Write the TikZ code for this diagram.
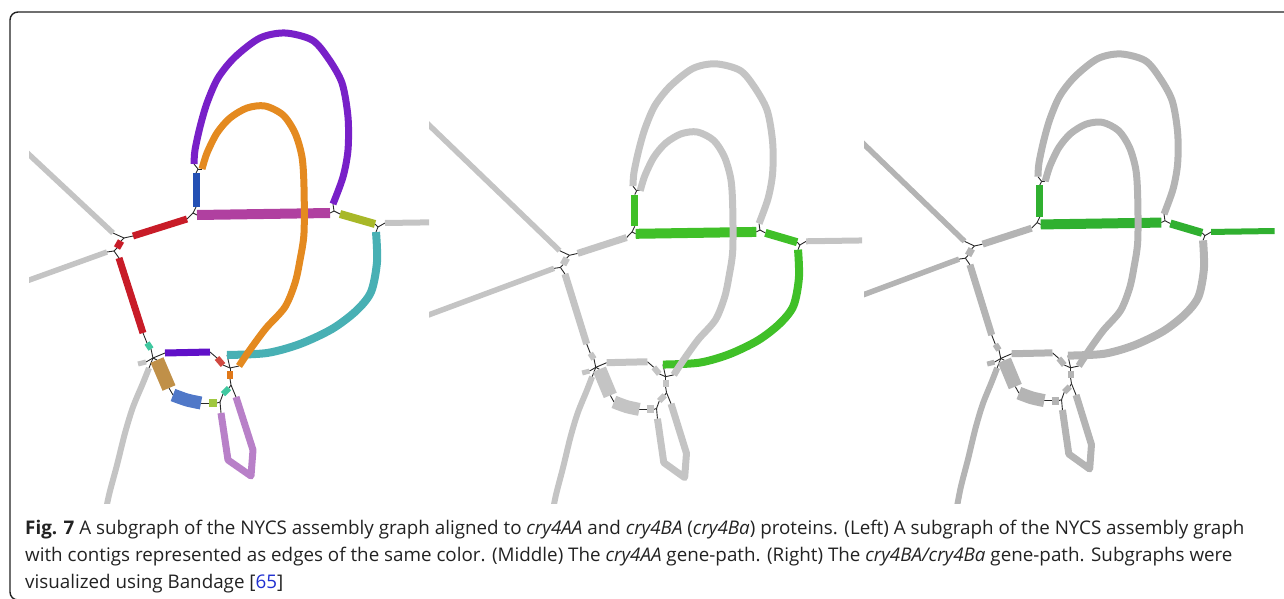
\documentclass[tikz,border=0pt]{standalone}
\usepackage{fontspec}
\setmainfont{Open Sans}
\usetikzlibrary{positioning}
% contig colours (left panel)
\definecolor{cGrey}{RGB}{196,196,196}
\definecolor{cGreyR}{RGB}{196,196,196}
\definecolor{cLoopOut}{RGB}{120,32,200}
\definecolor{cLoopIn}{RGB}{228,138,32}
\definecolor{cBlueV}{RGB}{36,80,180}
\definecolor{cMag}{RGB}{176,64,160}
\definecolor{cRedA}{RGB}{200,28,40}
\definecolor{cRedB}{RGB}{200,28,40}
\definecolor{cRedC}{RGB}{200,28,40}
\definecolor{cYG}{RGB}{168,184,40}
\definecolor{cTeal}{RGB}{72,176,180}
\definecolor{cMintA}{RGB}{64,200,160}
\definecolor{cMintB}{RGB}{64,200,160}
\definecolor{cIndigo}{RGB}{96,16,200}
\definecolor{cRedD}{RGB}{208,72,64}
\definecolor{cOrangeS}{RGB}{224,120,24}
\definecolor{cTan}{RGB}{192,144,72}
\definecolor{cBlueT}{RGB}{80,120,200}
\definecolor{cSquare}{RGB}{160,200,64}
\definecolor{cLilac}{RGB}{184,128,200}
% panel colours
\definecolor{midGrey}{RGB}{196,196,196}
\definecolor{rightGrey}{RGB}{180,180,180}
\definecolor{pathGreen}{RGB}{64,192,40}
\definecolor{pathGreenR}{RGB}{48,176,48}
\definecolor{linkGrey}{RGB}{40,40,40}
\definecolor{frameGrey}{RGB}{34,34,34}
\definecolor{captionText}{RGB}{34,34,34}
\definecolor{refBlue}{RGB}{32,48,208}

\newcommand{\greyall}[1]{%
  \colorlet{cGrey}{#1}\colorlet{cGreyR}{#1}\colorlet{cLoopOut}{#1}%
  \colorlet{cLoopIn}{#1}\colorlet{cBlueV}{#1}\colorlet{cMag}{#1}%
  \colorlet{cRedA}{#1}\colorlet{cRedB}{#1}\colorlet{cRedC}{#1}%
  \colorlet{cYG}{#1}\colorlet{cTeal}{#1}\colorlet{cMintA}{#1}%
  \colorlet{cMintB}{#1}\colorlet{cIndigo}{#1}\colorlet{cRedD}{#1}%
  \colorlet{cOrangeS}{#1}\colorlet{cTan}{#1}\colorlet{cBlueT}{#1}%
  \colorlet{cSquare}{#1}\colorlet{cLilac}{#1}}

\newcommand{\drawsubgraph}{%
  % contig ends
  \coordinate (gul0) at (-40,90);  \coordinate (gul1) at (113,233);
  \coordinate (gll0) at (-40,305); \coordinate (gll1) at (107,252);
  \coordinate (ra0) at (133,236);  \coordinate (ra1) at (187,219);
  \coordinate (rb0) at (121,241);  \coordinate (rb1) at (117,248);
  \coordinate (rc0) at (119,258);  \coordinate (rc1) at (143,333);
  \coordinate (bv0) at (196,207);  \coordinate (bv1) at (196,173);
  \coordinate (mg0) at (197,215);  \coordinate (mg1) at (330,213);
  \coordinate (lo0) at (194,164);  \coordinate (lo1) at (333,204);
  \coordinate (li0) at (202,169);  \coordinate (li1) at (239,366);
  \coordinate (yg0) at (340,214);  \coordinate (yg1) at (375,224);
  \coordinate (gr0) at (385,223);  \coordinate (gr1) at (455,222);
  \coordinate (tl0) at (376,232);  \coordinate (tl1) at (227,355);
  \coordinate (m10) at (147,343);  \coordinate (m11) at (151,349);
  \coordinate (in0) at (165,353);  \coordinate (in1) at (210,352);
  \coordinate (rd0) at (217,358);  \coordinate (rd1) at (223,365);
  \coordinate (os0) at (230,371);  \coordinate (os1) at (230,379);
  \coordinate (m20) at (229,388);  \coordinate (m21) at (223,394);
  \coordinate (tn0) at (157,360);  \coordinate (tn1) at (169,388);
  \coordinate (bt0) at (173,395);  \coordinate (bt1) at (201,403);
  \coordinate (sq0) at (209,403);  \coordinate (sq1) at (217,403);
  \coordinate (lc0) at (221,413);  \coordinate (lc1) at (236,397);
  \coordinate (gs0) at (138,364);  \coordinate (gs1) at (146,362);
  \coordinate (gw0) at (149,368);  \coordinate (gw1) at (104,520);
  % junctions
  \coordinate (j1) at (124,238);  \coordinate (j2) at (114,251);
  \coordinate (j3) at (193,213);  \coordinate (j9) at (198,169);
  \coordinate (j8) at (334,211);  \coordinate (j10) at (378,227);
  \coordinate (j4) at (153,358);  \coordinate (j5) at (230,368);
  \coordinate (j6) at (231,385);  \coordinate (j7) at (220,402);
  % links
  \foreach \a/\b in {gul1/j1, j1/ra0, j1/rb0, rb1/j2, gll1/j2, j2/rc0,
      ra1/j3, j3/bv0, j3/mg0, bv1/j9, j9/lo0, j9/li0, mg1/j8, lo1/j8,
      j8/yg0, yg1/j10, j10/gr0, j10/tl0, rc1/m10, m11/j4, j4/in0, j4/gs1,
      j4/tn0, j4/gw0, in1/rd0, rd1/j5, tl1/j5, li1/j5, j5/os0, os1/j6,
      j6/m20, j6/lc1, m21/j7, sq1/j7, j7/lc0, tn1/bt0, bt1/sq0}
    \draw[lnk] (\a) -- (\b);
  % contigs
  \draw[ctg, draw=cGrey, line width=5.5pt] (gul0) -- (gul1);
  \draw[ctg, draw=cGrey, line width=5.5pt] (gll0) -- (gll1);
  \draw[ctg, draw=cGrey, line width=5pt] (gs0) -- (gs1);
  \draw[ctg, draw=cGrey, line width=6pt] plot[smooth] coordinates {(gw0) (143,383) (133,407) (125,433) (117,465) (109,495) (gw1)};
  \draw[ctg, draw=cRedA, line width=7pt] (ra0) -- (ra1);
  \draw[ctg, draw=cRedB, line width=7pt] (rb0) -- (rb1);
  \draw[ctg, draw=cRedC, line width=7pt] (rc0) -- (rc1);
  \draw[ctg, draw=cBlueV, line width=7pt] (bv0) -- (bv1);
  \draw[ctg, draw=cMag, line width=10pt] (mg0) -- (mg1);
  \draw[ctg, draw=cYG, line width=8pt] (yg0) -- (yg1);
  \draw[ctg, draw=cGreyR, line width=6pt] (gr0) -- (gr1);
  \draw[ctg, draw=cTeal, line width=8pt] plot[smooth] coordinates {(tl0) (377,262) (371,292) (356,311) (332,329) (300,344) (267,353) (tl1)};
  \draw[ctg, draw=cMintA, line width=6pt] (m10) -- (m11);
  \draw[ctg, draw=cIndigo, line width=7pt] (in0) -- (in1);
  \draw[ctg, draw=cRedD, line width=6pt] (rd0) -- (rd1);
  \draw[ctg, draw=cOrangeS, line width=6pt] (os0) -- (os1);
  \draw[ctg, draw=cMintB, line width=6pt] (m20) -- (m21);
  \draw[ctg, draw=cTan, line width=14pt] (tn0) -- (tn1);
  \draw[ctg, draw=cBlueT, line width=13pt] plot[smooth] coordinates {(bt0) (187,400) (bt1)};
  \draw[ctg, draw=cSquare, line width=8pt] (sq0) -- (sq1);
  \draw[ctg, draw=cLilac, line width=7pt] (lc0) -- (228,460) -- (251,476) -- (253,450) -- (lc1);
  \draw[ctg, draw=cLoopOut, line width=7pt] plot[smooth] coordinates {(lo0) (195,150) (200,127) (207,103) (218,78) (235,57) (260,38) (285,33) (312,40) (328,58) (342,83) (348,117) (348,150) (343,177) (lo1)};
  \draw[ctg, draw=cLoopIn, line width=7pt] plot[smooth] coordinates {(li0) (207,153) (217,133) (230,118) (247,108) (265,106) (283,115) (295,133) (302,157) (304,187) (304,233) (300,260) (295,283) (285,307) (267,327) (257,340) (247,354) (li1)};
}

\begin{document}
\begin{tikzpicture}[x=1pt, y=-1pt,
    ctg/.style={line cap=butt, line join=round},
    lnk/.style={draw=linkGrey, line width=0.9pt},
    capline/.style={anchor=base west, inner sep=0pt, font=\fontsize{18.8}{27}\selectfont, text=captionText}
]
\useasboundingbox (0,0) rectangle (1284,599);

% Frame
\draw[frameGrey, line width=1.4pt, rounded corners=8pt] (1300,12) -- (10,12) -- (10,600) -- (1300,600);

% Left: contigs in colour
\begin{scope}
  \clip (29,15) rectangle (429,503);
  \drawsubgraph
\end{scope}

% Middle: cry4AA gene-path
\begin{scope}
  \clip (429,15) rectangle (862,503);
  \greyall{midGrey}
  \colorlet{cBlueV}{pathGreen}\colorlet{cMag}{pathGreen}
  \colorlet{cYG}{pathGreen}\colorlet{cTeal}{pathGreen}
  \begin{scope}[shift={(457,33)}, xscale=0.907, yscale=0.934]
    \drawsubgraph
  \end{scope}
\end{scope}

% Right: cry4BA/cry4Ba gene-path
\begin{scope}
  \clip (864,15) rectangle (1284,503);
  \greyall{rightGrey}
  \colorlet{cBlueV}{pathGreenR}\colorlet{cMag}{pathGreenR}
  \colorlet{cYG}{pathGreenR}\colorlet{cGreyR}{pathGreenR}
  \begin{scope}[shift={(862,23)}, xscale=0.907, yscale=0.937]
    \drawsubgraph
  \end{scope}
\end{scope}

% Caption
\node[capline] (capA) at (25,534) {\textbf{Fig. 7} A subgraph of the NYCS assembly graph aligned to \textit{cry4AA} and \textit{cry4BA} (\textit{cry4Ba}) proteins. (Left) A subgraph of the NYCS assembly graph};
\node[capline] (capB) at (25,561) {with contigs represented as edges of the same color. (Middle) The \textit{cry4AA} gene-path. (Right) The \textit{cry4BA/cry4Ba} gene-path. Subgraphs were};
\node[capline] (capC) at (25,588) {visualized using Bandage [\textcolor{refBlue}{65}]};
\end{tikzpicture}
\end{document}
